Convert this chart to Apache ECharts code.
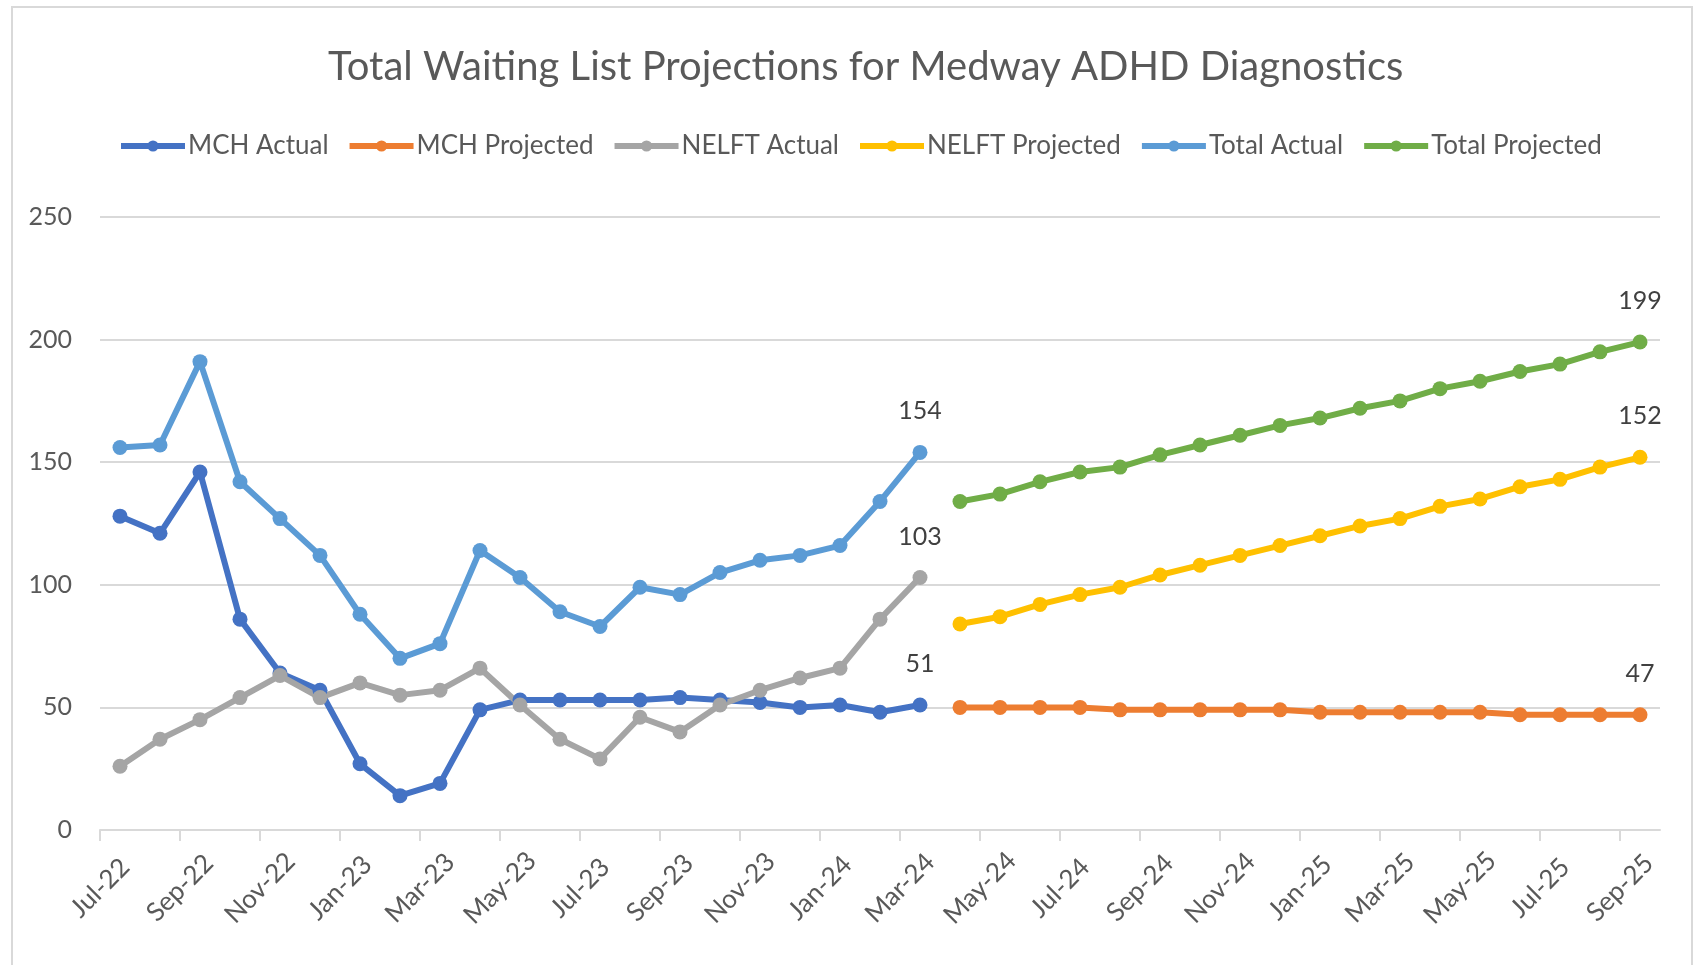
<!DOCTYPE html>
<html>
<head>
<meta charset="UTF-8">
<title>Total Waiting List Projections for Medway ADHD Diagnostics</title>
<script src="https://cdn.jsdelivr.net/npm/echarts@6/dist/echarts.min.js"></script>
<style>
  html, body { margin: 0; padding: 0; background: #fff; }
  #main { width: 1701px; height: 965px; }
</style>
</head>
<body>
<div id="main"></div>
<script>
// months on the x axis, one slot each
var months = ['Jul-22', 'Aug-22', 'Sep-22', 'Oct-22', 'Nov-22', 'Dec-22',
    'Jan-23', 'Feb-23', 'Mar-23', 'Apr-23', 'May-23', 'Jun-23', 'Jul-23', 'Aug-23',
    'Sep-23', 'Oct-23', 'Nov-23', 'Dec-23', 'Jan-24', 'Feb-24', 'Mar-24',
    'Apr-24', 'May-24', 'Jun-24', 'Jul-24', 'Aug-24', 'Sep-24', 'Oct-24', 'Nov-24',
    'Dec-24', 'Jan-25', 'Feb-25', 'Mar-25', 'Apr-25', 'May-25', 'Jun-25', 'Jul-25',
    'Aug-25', 'Sep-25'];

// actual: Jul-22 .. Mar-24
var mchActual   = [128, 121, 146, 86, 64, 57, 27, 14, 19, 49, 53, 53, 53, 53, 54, 53, 52, 50, 51, 48, 51];
var nelftActual = [26, 37, 45, 54, 63, 54, 60, 55, 57, 66, 51, 37, 29, 46, 40, 51, 57, 62, 66, 86, 103];
var totalActual = [156, 157, 191, 142, 127, 112, 88, 70, 76, 114, 103, 89, 83, 99, 96, 105, 110, 112, 116, 134, 154];

// projected: Apr-24 .. Sep-25
var mchProjected   = [50, 50, 50, 50, 49, 49, 49, 49, 49, 48, 48, 48, 48, 48, 47, 47, 47, 47];
var nelftProjected = [84, 87, 92, 96, 99, 104, 108, 112, 116, 120, 124, 127, 132, 135, 140, 143, 148, 152];
var totalProjected = [134, 137, 142, 146, 148, 153, 157, 161, 165, 168, 172, 175, 180, 183, 187, 190, 195, 199];

var yTicks = [0, 50, 100, 150, 200, 250];
var projStart = mchActual.length;

var FONT = 'Lato, "Open Sans", sans-serif';
var TEXT = '#595959';

// x = month index + 0.5 so points sit in the middle of each month
function pairs(arr, offset) {
    return arr.map(function (v, i) {
        var item = {value: [offset + i + 0.5, v]};
        if (i === arr.length - 1) {
            item.label = {show: true};
        }
        return item;
    });
}

function line(name, color, arr, offset) {
    return {
        name: name,
        type: 'line',
        data: pairs(arr, offset),
        symbol: 'circle',
        symbolSize: 15,
        lineStyle: {width: 6, color: color},
        itemStyle: {color: color},
        label: {
            show: false,
            position: 'top',
            distance: 21,
            fontFamily: FONT,
            fontSize: 25,
            color: '#404040',
            formatter: function (p) { return p.value[1]; }
        },
        emphasis: {disabled: true}
    };
}

var tickVals = [];
for (var t = 0; t < months.length; t += 2) tickVals.push(t);

var myChart = echarts.init(document.getElementById('main'));
myChart.setOption({
    animation: false,
    backgroundColor: '#fff',
    textStyle: {fontFamily: FONT},
    graphic: [{
        type: 'rect',
        shape: {x: 12, y: 7, width: 1680, height: 990},
        style: {fill: 'none', stroke: '#D9D9D9', lineWidth: 2},
        silent: true,
        z: -1
    }],
    title: {
        text: 'Total Waiting List Projections for Medway ADHD Diagnostics',
        left: 323,
        top: 42,
        textStyle: {fontFamily: FONT, fontSize: 40, fontWeight: 'normal', color: TEXT}
    },
    legend: {
        left: 118,
        top: 133,
        padding: 0,
        itemWidth: 64,
        itemHeight: 14,
        itemGap: 18,
        lineStyle: {width: 6},
        textStyle: {fontFamily: FONT, fontSize: 26, color: TEXT, padding: [0, 0, 0, -2]},
        data: ['MCH Actual', 'MCH Projected', 'NELFT Actual', 'NELFT Projected', 'Total Actual', 'Total Projected']
    },
    grid: {left: 100, right: 41, top: 217, bottom: 135},
    xAxis: {
        type: 'value',
        min: 0,
        max: months.length,
        interval: 2,
        axisLine: {show: true, lineStyle: {color: '#D9D9D9', width: 2}},
        axisTick: {show: true, length: 11, customValues: tickVals, lineStyle: {color: '#D9D9D9', width: 2}},
        splitLine: {show: false},
        axisLabel: {
            customValues: tickVals,
            rotate: 45,
            align: 'center',
            verticalAlign: 'middle',
            margin: 58,
            fontFamily: FONT,
            fontSize: 26,
            color: TEXT,
            formatter: function (v) { return months[v] || ''; }
        }
    },
    yAxis: {
        type: 'value',
        min: yTicks[0],
        max: yTicks[yTicks.length - 1],
        interval: 50,
        axisLine: {show: false},
        axisTick: {show: false},
        splitLine: {lineStyle: {color: '#D9D9D9', width: 2}},
        axisLabel: {fontFamily: FONT, fontSize: 25, color: TEXT, margin: 28}
    },
    series: [
        line('MCH Actual', '#4472C4', mchActual, 0),
        line('MCH Projected', '#ED7D31', mchProjected, projStart),
        line('NELFT Actual', '#A5A5A5', nelftActual, 0),
        line('NELFT Projected', '#FFC000', nelftProjected, projStart),
        line('Total Actual', '#5B9BD5', totalActual, 0),
        line('Total Projected', '#70AD47', totalProjected, projStart)
    ]
});
</script>
</body>
</html>
